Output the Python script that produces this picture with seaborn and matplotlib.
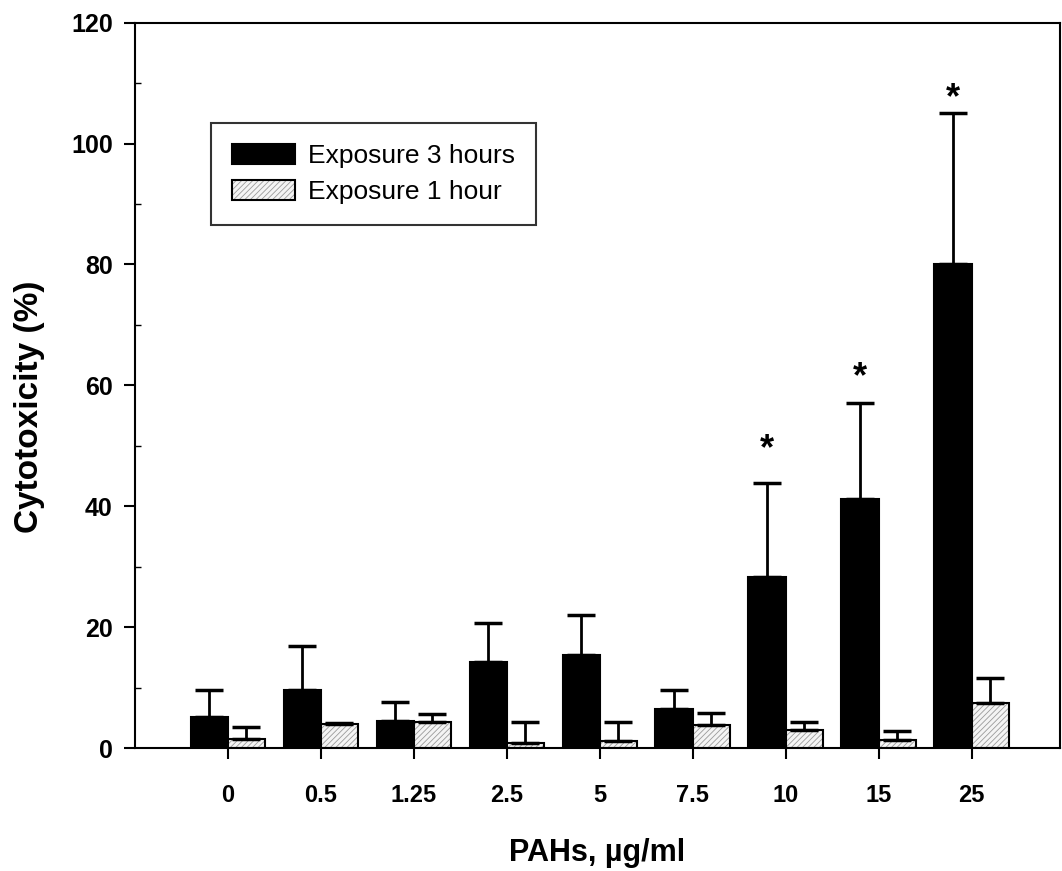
import numpy as np
import pandas as pd
import matplotlib
matplotlib.use("Agg")
import matplotlib.pyplot as plt
import seaborn as sns
from matplotlib.colors import to_rgba
from matplotlib.ticker import MultipleLocator

conc = ['0', '0.5', '1.25', '2.5', '5', '7.5', '10', '15', '25']
mean_3h = [5.2, 9.6, 4.5, 14.2, 15.4, 6.4, 28.3, 41.2, 80.0]
err_3h = [4.4, 7.3, 3.1, 6.5, 6.6, 3.2, 15.6, 15.9, 25.1]
mean_1h = [1.6, 4.0, 4.3, 0.8, 1.2, 3.8, 3.0, 1.3, 7.5]
err_1h = [1.9, 0.2, 1.3, 3.5, 3.1, 2.0, 1.3, 1.5, 4.1]
series = ['Exposure 3 hours', 'Exposure 1 hour']
star_conc = ['10', '15', '25']
star_y = [49.3, 61.3, 107.4]

df = pd.DataFrame({
    'conc': conc * 2,
    'value': mean_3h + mean_1h,
    'err': err_3h + err_1h,
    'series': [series[0]] * len(conc) + [series[1]] * len(conc),
})

sns.set_theme(style='white')
plt.rcParams['font.family'] = ['Liberation Sans', 'DejaVu Sans']
plt.rcParams['hatch.linewidth'] = 0.6
plt.rcParams['text.color'] = 'black'
plt.rcParams['axes.labelcolor'] = 'black'
plt.rcParams['xtick.color'] = 'black'
plt.rcParams['ytick.color'] = 'black'

fig = plt.figure(figsize=(10.62, 8.71), dpi=100)
ax = fig.add_axes([0.127, 0.141, 0.871, 0.833])

sns.barplot(data=df, x='conc', y='value', hue='series', order=conc,
            hue_order=series, palette=['black', '#f4f4f4'], width=0.8,
            edgecolor='black', linewidth=1.5, errorbar=None, ax=ax,
            legend=True)

n = len(conc)
patches = list(ax.patches)[:2 * n]
for p in patches[n:2 * n]:
    p.set_hatch('//////')
    p.set_edgecolor('black')
    p._hatch_color = to_rgba('#9a9a9a')

for s_idx, (means, errs) in enumerate([(mean_3h, err_3h), (mean_1h, err_1h)]):
    ps = patches[s_idx * n:(s_idx + 1) * n]
    xs = [p.get_x() + p.get_width() / 2 for p in ps]
    ax.errorbar(xs, means, yerr=[np.zeros(n), errs], fmt='none',
                ecolor='black', elinewidth=2, capsize=10, capthick=2.5,
                zorder=1)

ps3 = patches[:n]
for c, y in zip(star_conc, star_y):
    p = ps3[conc.index(c)]
    ax.text(p.get_x() + p.get_width() / 2, y, '*', ha='center', va='center',
            fontsize=26, fontweight='bold', color='black')

ax.set_xlim(-1, 8.95)
ax.set_ylim(0, 120)
ax.yaxis.set_major_locator(MultipleLocator(20))
ax.yaxis.set_minor_locator(MultipleLocator(10))
ax.tick_params(axis='y', which='major', direction='out', length=8, width=1.5,
               pad=8, labelsize=18, left=True)
ax.tick_params(axis='y', which='minor', direction='in', length=4, width=1,
               left=True)
ax.tick_params(axis='x', which='major', direction='out', length=8, width=1.5,
               pad=18, labelsize=17, bottom=True)
for lab in ax.get_yticklabels():
    lab.set_fontweight('bold')
for lab in ax.get_xticklabels():
    lab.set_fontweight('bold')

for sp in ax.spines.values():
    sp.set_visible(True)
    sp.set_color('black')
    sp.set_linewidth(1.5)

ax.set_xlabel('PAHs, µg/ml', fontsize=22, fontweight='bold', labelpad=22)
ax.set_ylabel('Cytotoxicity (%)', fontsize=24, fontweight='bold')
ax.yaxis.set_label_coords(-0.097, 0.47)

handles, labels = ax.get_legend_handles_labels()
leg = ax.legend(handles, labels, loc='upper left', bbox_to_anchor=(0.082, 0.862),
                fontsize=19, frameon=True, fancybox=False, edgecolor='black',
                handlelength=2.4, handleheight=0.8, borderpad=0.8,
                labelspacing=0.45, handletextpad=0.5, borderaxespad=0)
leg.get_frame().set_linewidth(1.5)
lh = leg.legend_handles
lh[1].set_hatch('//////')
lh[1].set_edgecolor('black')
lh[1]._hatch_color = to_rgba('#9a9a9a')

fig.savefig('out.png', dpi=100)
